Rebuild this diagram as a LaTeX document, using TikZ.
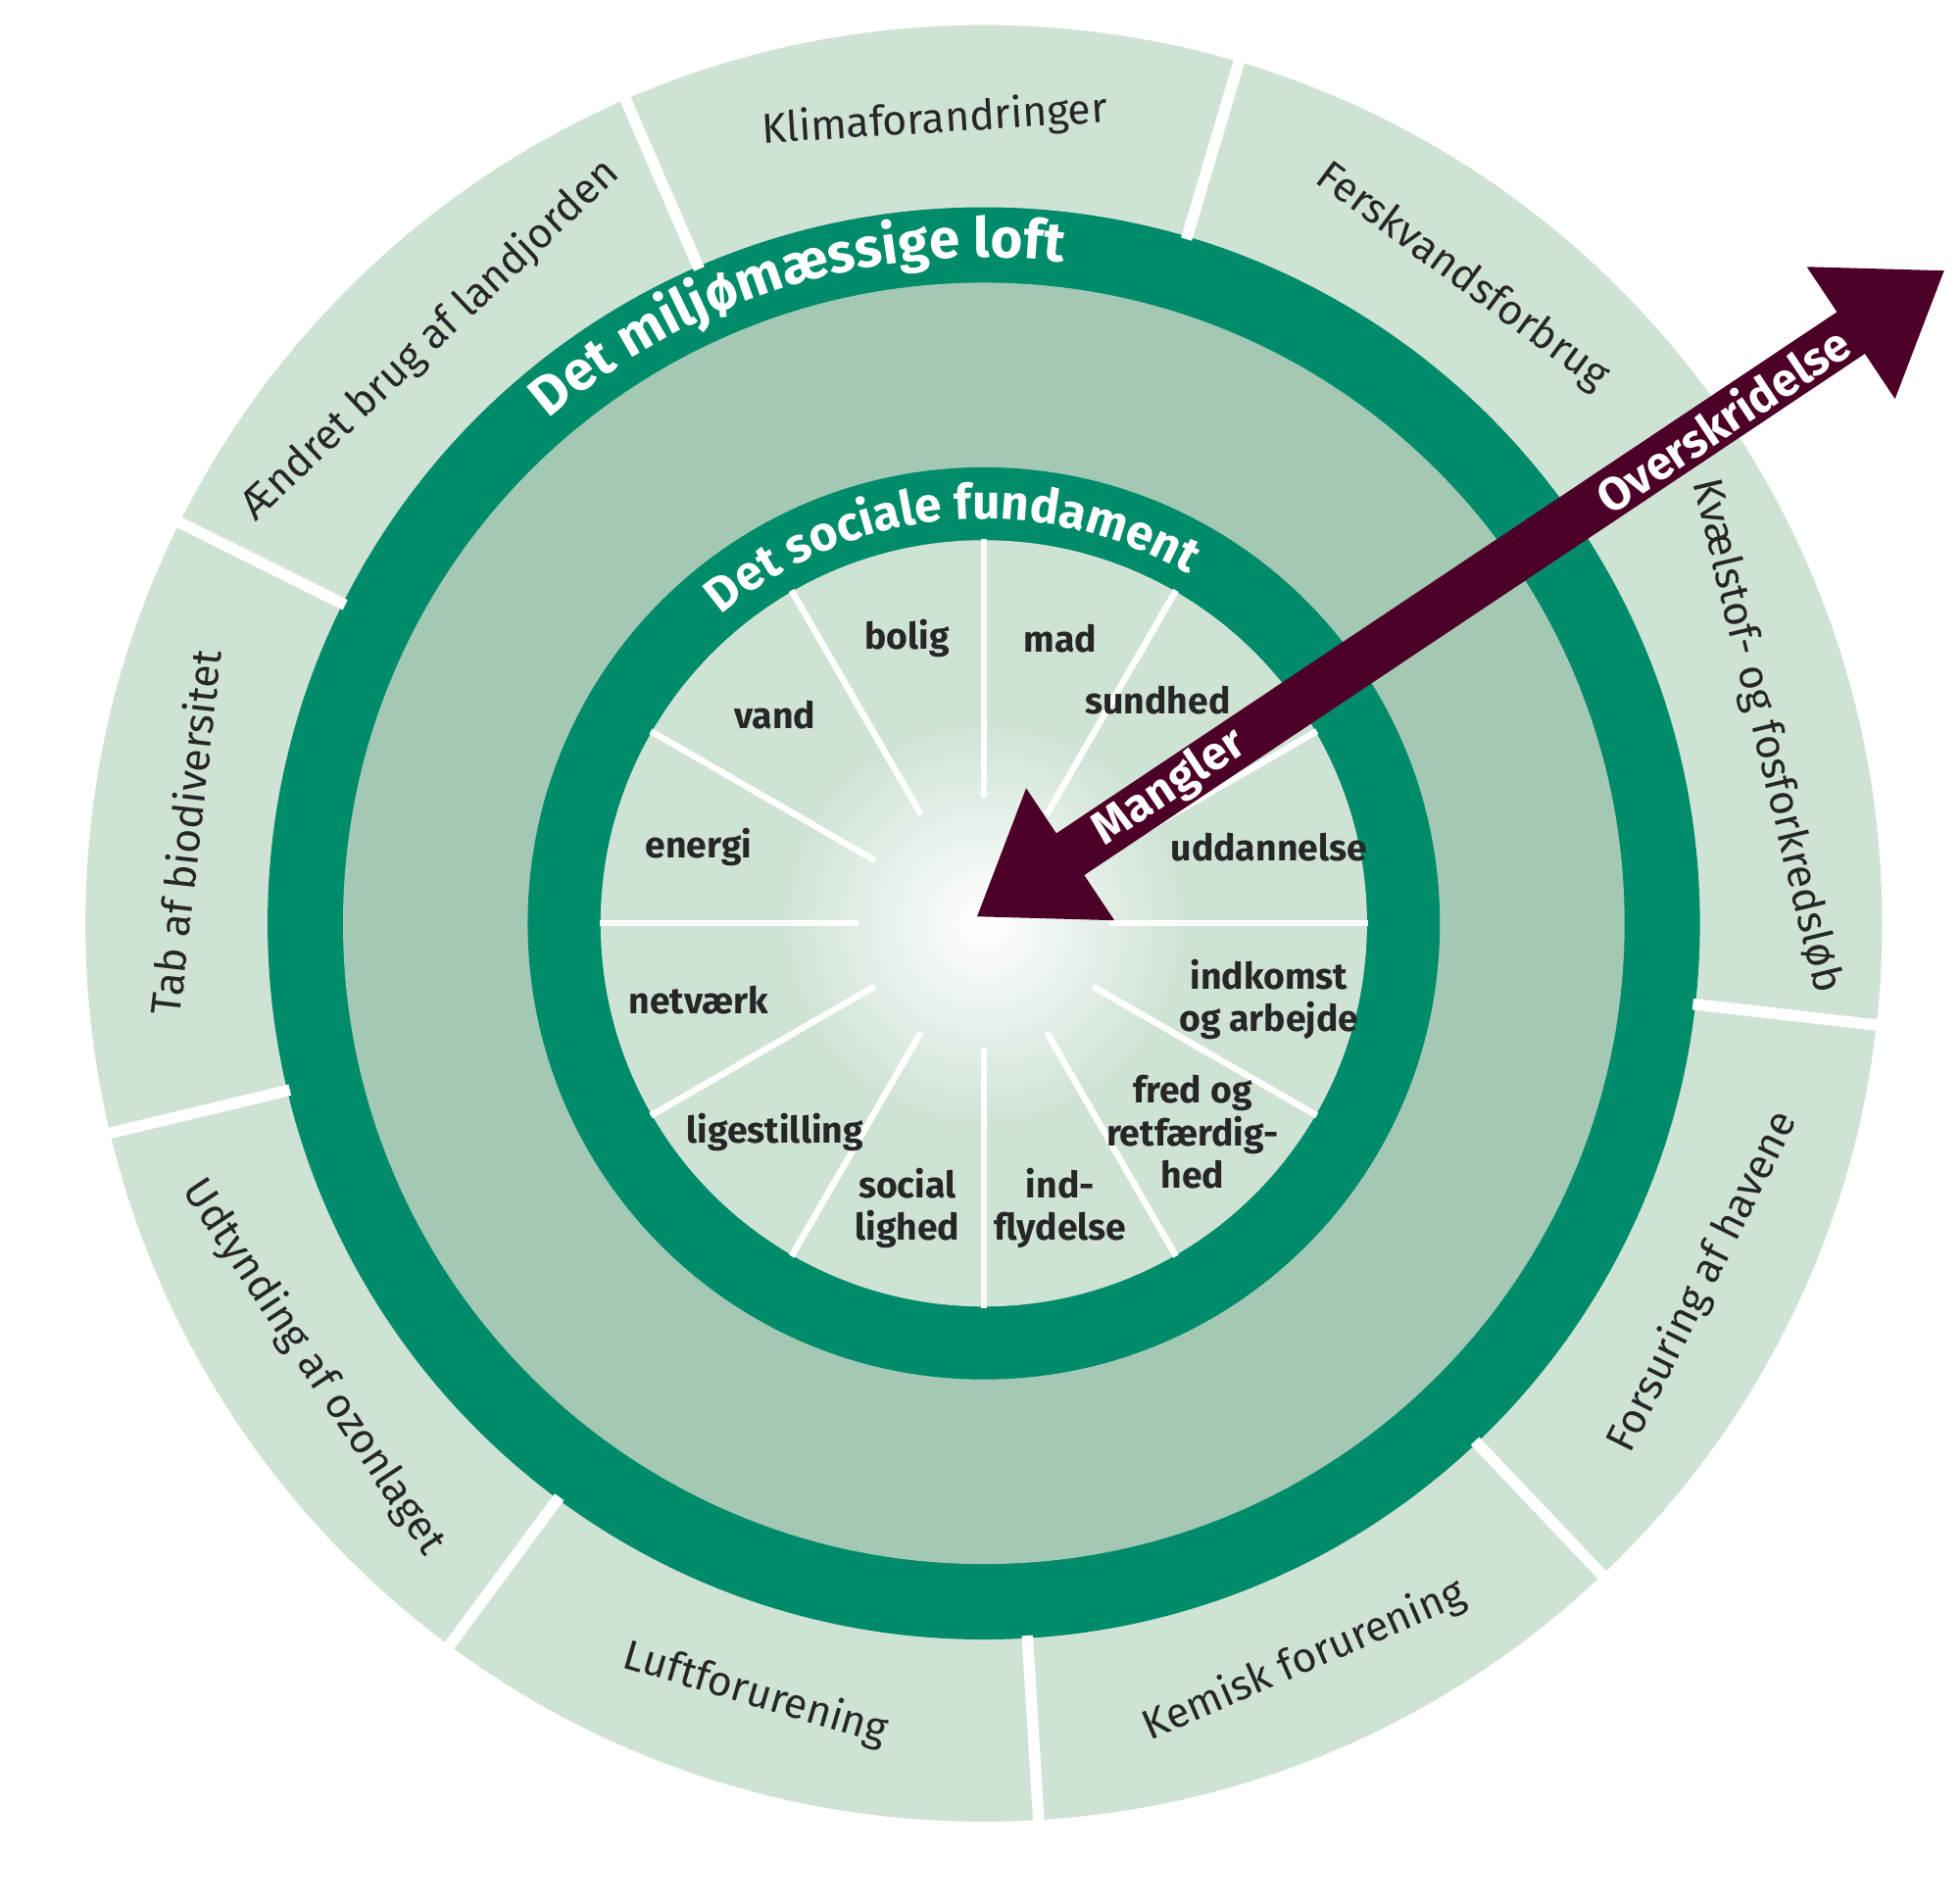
\documentclass[tikz,border=0pt]{standalone}
\usepackage{fontspec}
\setmainfont{Fira Sans}
\usetikzlibrary{arrows.meta,decorations.text}
\definecolor{pale}{HTML}{CFE3D5}
\definecolor{midgreen}{HTML}{A3C9B5}
\definecolor{dark}{HTML}{008B6A}
\definecolor{maroon}{HTML}{4D0027}
\tikzset{
  outerlbl/.style={font=\fontsize{9.5}{11}\selectfont, text=black!85},
  innerlbl/.style={font=\bfseries\fontsize{8.3}{9.6}\selectfont, align=center, text=black!85},
  sep/.style={white, line width=0.9mm},
}
\begin{document}
\begin{tikzpicture}[x=0.1mm, y=0.1mm]
\useasboundingbox (0,0) rectangle (1560,1515);
\coordinate (c) at (783,780);
%rings:
\fill[pale] (c) circle (715);
\fill[dark] (c) circle (570);
\fill[midgreen] (c) circle (510);
\fill[dark] (c) circle (363);
\fill[pale] (c) circle (305);
\shade[inner color=white, outer color=pale] (c) circle (160);

%outer separators:
\foreach \a in {113.5,73.5,33.5,-6.5,-46.5,-86.5,-126.5,-166.5,153.5} {
	\draw[sep] ([shift={(\a:568)}]c) -- ([shift={(\a:720)}]c);
}
%inner separators:
\foreach \a in {0,30,...,330} {
	\draw[white, line width=0.5mm] ([shift={(\a:100)}]c) -- ([shift={(\a:306)}]c);
}

%outer labels:
\foreach \a/\t in {93.5/Klimaforandringer, 53.5/Ferskvandsforbrug, 13.5/Kvælstof- og fosforkredsløb, 133.5/Ændret brug af landjorden, 173.5/Tab af biodiversitet} {
	\node[outerlbl, rotate=\a-90] at ([shift={(\a:640)}]c) {\t};
}
\foreach \a/\t in {-26.5/Forsuring af havene, -66.5/Kemisk forurening, -106.5/Luftforurening, -146.5/Udtynding af ozonlaget} {
	\node[outerlbl, rotate=\a+90] at ([shift={(\a:640)}]c) {\t};
}

%inner labels:
\foreach \a/\r/\t in {105/235/bolig, 75/235/mad, 52/225/sundhed, 15/235/uddannelse, -15/235/indkomst\\og arbejde, -45/235/fred og\\retfærdig-\\hed, -75/235/ind-\\flydelse, -105/235/social\\lighed, -135/235/ligestilling, -165/235/netværk, 165/235/energi, 135/235/vand} {
	\node[innerlbl] at ([shift={(\a:\r)}]c) {\t};
}

%curved titles:
\path[decorate, decoration={text along path, text align=center,
	text={|\bfseries\fontsize{12.5}{12.5}\selectfont\color{white}|Det miljømæssige loft}}]
	([shift={(150:530)}]c) arc (150:64:530);
\path[decorate, decoration={text along path, text align=center,
	text={|\bfseries\fontsize{11}{11}\selectfont\color{white}|Det sociale fundament}}]
	([shift={(150:322)}]c) arc (150:40:322);

%arrow:
\coordinate (tipin) at (777,785);
\coordinate (tipout) at (1548,1300);
\draw[maroon, line width=4mm, {Triangle[length=9mm, width=12mm]}-{Triangle[length=9mm, width=12mm]}]
	(tipin) -- (tipout)
	node[pos=0.2, sloped, text=white, font=\bfseries\fontsize{10.5}{10.5}\selectfont] {Mangler}
	node[pos=0.77, sloped, text=white, font=\bfseries\fontsize{10.5}{10.5}\selectfont] {Overskridelse};
\end{tikzpicture}
\end{document}
